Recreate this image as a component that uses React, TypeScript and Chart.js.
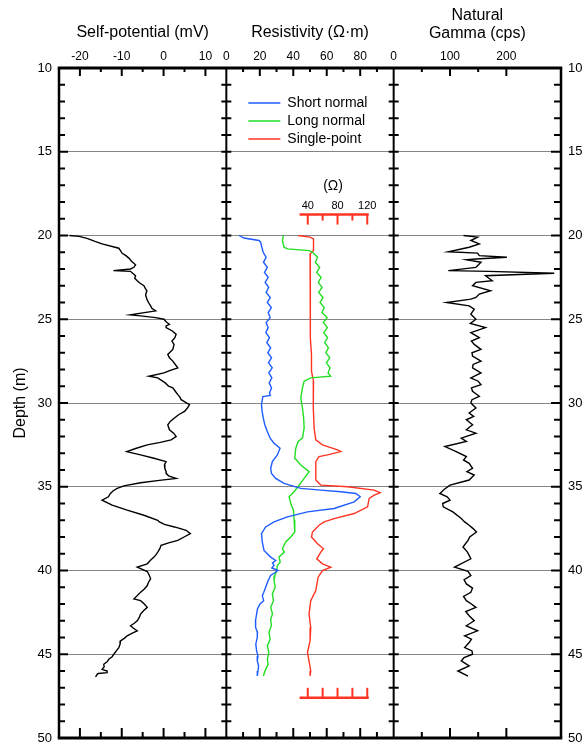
import React, { useEffect, useRef } from 'react';
import { Chart, registerables } from 'chart.js';

Chart.register(...registerables);

const FONT = '"Liberation Sans", Arial, Helvetica, sans-serif';

// ---------- axis ranges / tick labels ----------
const depthMin = 10;
const depthMax = 50;
const depthTickLabels = [10, 15, 20, 25, 30, 35, 40, 45, 50];
const spRange = [-25, 15];
const spTickLabels = [-20, -10, 0, 10];
const resRange = [0, 100];
const resTickLabels = [0, 20, 40, 60, 80];
const gammaRange = [0, 297];
const gammaTickLabels = [0, 100, 200];
const singleRange = [-69.5, 155.5];
const singleTickLabels = [40, 80, 120];
const singleTickMarks = [40, 60, 80, 100, 120];

const seriesLabels = ['Self-potential', 'Short normal', 'Long normal', 'Single-point', 'Natural gamma'];
const seriesColors = ['#000000', '#1f5cff', '#22dd22', '#ff3322', '#000000'];

// ---------- Self-potential (mV) ----------
const spDepth = [20.0, 20.05, 20.17, 20.35, 20.5, 20.76, 20.9, 21.06, 21.2, 21.35, 21.55, 21.75, 21.9, 22.0, 22.1, 22.14, 22.25, 22.4, 22.55, 22.7, 22.85, 23.0, 23.15, 23.3, 23.55, 23.8, 24.0, 24.2, 24.35, 24.5, 24.74, 24.8, 24.9, 25.0, 25.15, 25.3, 25.4, 25.5, 25.7, 25.9, 26.1, 26.3, 26.5, 26.8, 27.1, 27.3, 27.5, 27.7, 27.9, 28.05, 28.2, 28.4, 28.5, 28.65, 28.8, 29.0, 29.1, 29.3, 29.5, 29.65, 29.8, 30.1, 30.3, 30.5, 30.7, 30.9, 31.1, 31.3, 31.6, 31.8, 32.0, 32.2, 32.35, 32.5, 32.7, 32.9, 33.1, 33.3, 33.5, 33.7, 33.9, 34.1, 34.2, 34.35, 34.5, 34.62, 34.76, 34.95, 35.1, 35.25, 35.4, 35.6, 35.8, 36.1, 36.4, 36.7, 37.0, 37.1, 37.25, 37.4, 37.6, 37.8, 38.0, 38.2, 38.35, 38.5, 38.7, 38.9, 39.05, 39.2, 39.4, 39.6, 39.8, 40.06, 40.3, 40.5, 40.7, 40.9, 41.1, 41.3, 41.5, 41.7, 41.8, 42.0, 42.2, 42.4, 42.6, 42.8, 43.0, 43.15, 43.3, 43.45, 43.6, 43.75, 43.9, 44.05, 44.2, 44.4, 44.6, 44.8, 45.0, 45.15, 45.3, 45.45, 45.6, 45.75, 45.9, 46.0, 46.1, 46.15, 46.2, 46.3, 46.35];
const spValue = [-22.5, -20.2, -18.3, -16.4, -14.7, -10.7, -10.3, -9.9, -9.0, -8.3, -7.6, -6.7, -7.1, -7.9, -12.0, -7.9, -7.4, -6.7, -6.9, -6.3, -5.6, -4.7, -4.4, -4.0, -4.3, -4.0, -3.6, -3.1, -2.8, -1.9, -8.0, -5.5, -1.9, 0.1, 0.6, 1.4, 0.6, 0.6, 2.1, 3.0, 2.7, 2.0, 2.5, 2.2, 1.0, 1.4, 2.2, 2.8, 3.4, 1.6, 0.1, -3.5, -1.4, -0.5, 0.4, 1.2, 2.2, 2.8, 3.4, 3.9, 4.2, 6.2, 5.7, 5.0, 3.6, 2.6, 1.6, 1.0, 1.4, 2.4, 3.0, 1.8, -0.8, -3.9, -6.5, -8.8, -5.5, -2.3, 0.6, 0.2, 0.3, 0.6, 0.6, 1.2, 3.0, -1.0, -5.5, -9.5, -11.1, -12.1, -12.7, -13.2, -14.7, -12.3, -8.7, -4.7, -1.4, -1.0, 0.2, 2.6, 5.4, 6.4, 4.9, 3.4, 1.2, -0.6, -0.9, -1.4, -1.8, -2.3, -3.2, -3.9, -6.3, -3.9, -3.4, -3.1, -3.6, -3.9, -4.6, -5.5, -6.3, -7.1, -5.5, -4.6, -3.9, -4.8, -5.5, -5.8, -6.3, -7.0, -7.9, -7.2, -6.3, -7.6, -8.7, -9.4, -10.3, -10.4, -10.7, -11.3, -11.9, -12.3, -13.1, -13.5, -14.3, -14.2, -14.7, -13.5, -13.5, -15.6, -15.9, -16.1, -16.3];

// ---------- Short normal (ohm-m) ----------
const shortDepth = [20.0, 20.15, 20.3, 20.4, 20.7, 21.0, 21.3, 21.6, 21.9, 22.2, 22.5, 22.8, 23.1, 23.4, 23.7, 24.0, 24.3, 24.6, 24.9, 25.2, 25.5, 25.8, 26.1, 26.4, 26.7, 27.0, 27.3, 27.6, 27.9, 28.2, 28.5, 28.8, 29.1, 29.4, 29.55, 29.62, 30.1, 30.5, 30.9, 31.3, 31.7, 32.1, 32.4, 32.7, 33.1, 33.5, 33.9, 34.2, 34.5, 34.8, 35.1, 35.2, 35.3, 35.4, 35.6, 35.9, 36.3, 36.5, 36.8, 37.1, 37.4, 37.8, 38.3, 38.8, 39.2, 39.4, 39.55, 39.7, 39.85, 40.0, 40.3, 40.6, 41.0, 41.3, 41.5, 41.8, 42.0, 42.3, 42.6, 43.0, 43.4, 43.7, 44.0, 44.4, 44.8, 45.1, 45.4, 45.7, 46.0, 46.3];
const shortValue = [7.6, 10.5, 19.5, 20.5, 21.2, 22.0, 23.8, 22.2, 24.5, 22.8, 25.0, 23.2, 25.3, 23.8, 26.3, 24.5, 26.9, 25.0, 26.2, 23.8, 25.0, 23.6, 25.8, 24.2, 26.5, 24.8, 27.0, 25.2, 27.4, 25.4, 27.2, 25.6, 27.0, 25.8, 26.3, 21.8, 21.0, 21.4, 22.1, 23.0, 24.5, 26.2, 28.5, 32.1, 30.5, 27.5, 26.5, 27.0, 29.5, 34.5, 44.5, 56.5, 68.4, 77.4, 80.0, 76.4, 64.4, 48.5, 36.5, 28.5, 23.5, 21.0, 21.5, 22.5, 26.5, 29.5, 27.6, 28.5, 27.2, 30.9, 26.5, 25.0, 23.5, 22.4, 21.5, 22.3, 20.1, 18.6, 18.1, 17.4, 17.5, 18.6, 18.5, 17.6, 18.1, 18.9, 18.5, 19.3, 18.9, 18.5];

// ---------- Long normal (ohm-m) ----------
const longDepth = [20.0, 20.3, 20.7, 20.8, 20.9, 21.0, 21.3, 21.6, 21.9, 22.2, 22.5, 22.8, 23.1, 23.4, 23.7, 24.0, 24.3, 24.6, 24.9, 25.2, 25.5, 25.8, 26.1, 26.4, 26.7, 27.0, 27.3, 27.6, 27.9, 28.2, 28.4, 28.5, 28.7, 29.1, 29.7, 30.3, 30.9, 31.5, 32.1, 32.3, 32.7, 33.3, 33.7, 34.1, 34.5, 34.9, 35.3, 35.6, 36.0, 36.4, 37.0, 37.7, 38.0, 38.3, 38.7, 38.9, 39.2, 39.5, 39.7, 40.0, 40.3, 40.6, 41.0, 41.4, 41.8, 42.2, 42.6, 42.9, 43.3, 43.7, 44.1, 44.5, 44.9, 45.3, 45.6, 45.9, 46.3];
const longValue = [34.1, 33.5, 34.5, 36.5, 49.5, 51.5, 54.5, 53.2, 55.8, 54.0, 56.6, 55.0, 57.2, 55.2, 57.8, 56.0, 58.5, 57.2, 60.2, 58.0, 60.4, 58.2, 60.5, 58.8, 61.0, 59.5, 61.8, 59.8, 62.0, 60.8, 62.3, 50.5, 46.5, 45.5, 44.5, 45.5, 46.2, 46.5, 45.5, 42.9, 41.5, 40.9, 44.5, 49.5, 46.5, 43.5, 40.5, 37.5, 38.5, 40.1, 40.5, 40.9, 38.5, 35.5, 33.5, 34.6, 31.5, 32.2, 30.5, 30.1, 29.0, 28.5, 29.2, 27.5, 28.2, 26.5, 27.6, 26.5, 26.9, 25.5, 26.2, 24.5, 25.4, 24.5, 25.0, 23.5, 22.1];

// ---------- Single-point (ohm) ----------
const singleDepth = [20.0, 20.1, 20.2, 20.9, 21.1, 22.1, 23.1, 24.3, 25.1, 26.1, 27.1, 28.1, 28.7, 29.5, 30.3, 31.5, 32.2, 32.5, 32.8, 32.9, 33.1, 33.2, 33.5, 34.3, 34.6, 34.9, 35.0, 35.2, 35.36, 35.5, 35.7, 36.2, 36.6, 36.9, 37.1, 37.3, 37.7, 38.0, 38.4, 38.7, 38.9, 39.3, 39.6, 39.8, 40.0, 40.4, 41.2, 41.8, 42.6, 43.4, 44.2, 44.9, 45.4, 46.0, 46.3];
const singleValue = [26.9, 43.1, 47.7, 47.7, 43.1, 43.1, 44.0, 43.1, 44.0, 43.1, 45.0, 45.0, 47.7, 47.2, 47.7, 48.5, 50.8, 59.8, 80.0, 84.4, 66.5, 55.2, 50.8, 50.8, 50.8, 57.5, 93.5, 129.3, 137.4, 129.3, 122.6, 120.4, 102.4, 75.4, 62.0, 55.2, 46.3, 45.0, 53.1, 61.1, 57.5, 52.1, 59.8, 71.0, 59.8, 53.9, 50.8, 44.0, 41.7, 44.0, 43.1, 39.6, 41.7, 44.0, 43.1];

// ---------- Natural gamma (cps) ----------
const gammaDepth = [20.0, 20.1, 20.3, 20.5, 20.7, 20.97, 21.05, 21.2, 21.3, 21.4, 21.45, 21.6, 21.9, 22.1, 22.14, 22.25, 22.4, 22.55, 22.7, 22.8, 23.0, 23.3, 23.5, 23.7, 23.8, 24.0, 24.2, 24.4, 24.7, 25.0, 25.25, 25.5, 25.8, 26.1, 26.3, 26.5, 26.8, 27.0, 27.2, 27.5, 27.7, 27.9, 28.2, 28.5, 28.7, 28.9, 29.1, 29.3, 29.6, 29.8, 30.0, 30.3, 30.6, 30.8, 31.0, 31.3, 31.6, 31.8, 32.1, 32.3, 32.6, 32.9, 33.2, 33.4, 33.6, 33.9, 34.1, 34.3, 34.6, 34.9, 35.15, 35.4, 35.6, 35.8, 36.0, 36.2, 36.5, 36.9, 37.1, 37.3, 37.5, 37.7, 38.0, 38.2, 38.6, 38.9, 39.3, 39.8, 40.05, 40.3, 40.55, 40.8, 41.05, 41.3, 41.55, 41.8, 42.0, 42.2, 42.45, 42.7, 43.0, 43.3, 43.6, 43.9, 44.1, 44.3, 44.6, 44.8, 45.0, 45.2, 45.4, 45.7, 46.0, 46.3];
const gammaValue = [124, 149, 137, 152, 134, 97, 149, 152, 201, 146, 129, 155, 146, 97, 169, 285, 163, 169, 175, 146, 140, 172, 152, 146, 137, 94, 134, 143, 137, 146, 136, 163, 137, 152, 138, 143, 155, 139, 140, 155, 141, 140, 155, 137, 150, 155, 138, 140, 152, 139, 137, 146, 134, 142, 129, 140, 129, 146, 120, 129, 91, 111, 129, 124, 134, 140, 130, 143, 134, 100, 90, 82, 95, 100, 87, 88, 105, 120, 126, 134, 141, 147, 135, 132, 123, 131, 137, 108, 132, 137, 125, 129, 140, 137, 124, 129, 138, 146, 128, 134, 143, 129, 149, 126, 138, 134, 126, 139, 140, 125, 120, 134, 114, 132];

const toPoints = (depths: number[], values: number[]) => depths.map((d, i) => ({ x: values[i], y: d }));

const labelFilter = (list: number[]) => (v: number | string) => (list.includes(Number(v)) ? String(v) : '');

const topAxis = (
  range: number[],
  step: number,
  labels: number[],
  title: string | string[],
  titleTop: number,
  weight: number
) => ({
  type: 'linear' as const,
  position: 'top' as const,
  stack: 'panels',
  stackWeight: 1,
  weight,
  min: range[0],
  max: range[1],
  grid: { display: false, drawTicks: false },
  border: { display: false },
  ticks: {
    stepSize: step,
    autoSkip: false,
    maxRotation: 0,
    padding: 4,
    color: '#000',
    font: { family: FONT, size: 12 },
    callback: labelFilter(labels),
  },
  title: {
    display: true,
    text: title,
    color: '#000',
    font: { family: FONT, size: 16, lineHeight: 1.15 },
    padding: { top: titleTop, bottom: 0 },
  },
  afterFit: (s: any) => {
    s.height = 68;
    s.paddingLeft = 0;
    s.paddingRight = 0;
  },
});

const hiddenBottom = (range: number[]) => ({
  type: 'linear' as const,
  position: 'bottom' as const,
  stack: 'hidden',
  stackWeight: 1,
  display: false,
  min: range[0],
  max: range[1],
});

const depthAxisFit = (width: number) => (s: any) => {
  s.width = width;
  s.paddingTop = 0;
  s.paddingBottom = 0;
};

const wellLogPlugin = {
  id: 'wellLog',
  afterDatasetsDraw(chart: any) {
    const { ctx, chartArea: a, scales } = chart;
    const y = scales.y;
    const xsp = scales.xsp;
    const xres = scales.xres;
    const xgam = scales.xgam;
    const xsp1 = scales.xsp1;
    const seg = (x1: number, y1: number, x2: number, y2: number) => {
      ctx.beginPath();
      ctx.moveTo(x1, y1);
      ctx.lineTo(x2, y2);
      ctx.stroke();
    };
    ctx.save();
    ctx.lineCap = 'butt';
    ctx.strokeStyle = '#000';
    ctx.lineWidth = 2;
    // depth ticks on frame and dividers
    for (let d = depthMin; d <= depthMax; d++) {
      const py = y.getPixelForValue(d);
      const major = d % 5 === 0;
      seg(a.left, py, a.left + (major ? 9 : 6), py);
      seg(a.right, py, a.right - (major ? 10 : 7), py);
      for (const xd of [xres.left, xgam.left]) seg(xd - 5, py, xd + 5, py);
    }
    // top / bottom ticks
    const panels: [any, number][] = [
      [xsp, 10],
      [xres, 20],
      [xgam, 100],
    ];
    for (const [sc, majorStep] of panels) {
      for (const t of sc.ticks) {
        const px = sc.getPixelForValue(t.value);
        if (px <= sc.left + 1 || px >= sc.right - 1) continue;
        const major = Math.abs(t.value % majorStep) < 1e-6;
        seg(px, a.top, px, a.top + (major ? 8 : 4));
        seg(px, a.bottom, px, a.bottom - (major ? 10 : 6));
      }
    }
    // frame
    ctx.lineWidth = 3;
    seg(a.left - 1.25, a.top, a.right + 1.25, a.top);
    seg(a.left - 1.25, a.bottom, a.right + 1.25, a.bottom);
    ctx.lineWidth = 2.5;
    seg(a.left, a.top, a.left, a.bottom);
    seg(a.right, a.top, a.right, a.bottom);
    ctx.lineWidth = 2;
    seg(xres.left, a.top, xres.left, a.bottom);
    seg(xgam.left, a.top, xgam.left, a.bottom);

    // single-point (ohm) scale bars
    const red = seriesColors[3];
    ctx.strokeStyle = red;
    ctx.fillStyle = red;
    const x0 = xsp1.getPixelForValue(29);
    const x1 = xsp1.getPixelForValue(122);
    const yTop = y.getPixelForValue(18.75);
    const yBot = y.getPixelForValue(47.6);
    ctx.lineWidth = 2.5;
    seg(x0, yTop, x1, yTop);
    seg(x0, yBot, x1, yBot);
    ctx.lineWidth = 2;
    for (const v of singleTickMarks) {
      const px = xsp1.getPixelForValue(v);
      const long = singleTickLabels.includes(v);
      seg(px, yTop, px, yTop + (long ? 10 : 6));
      seg(px, yBot, px, yBot - 10);
    }
    ctx.fillStyle = '#000';
    ctx.textAlign = 'center';
    ctx.textBaseline = 'middle';
    ctx.font = `11px ${FONT}`;
    for (const v of singleTickLabels) {
      ctx.fillText(String(v), xsp1.getPixelForValue(v), yTop - 9);
    }
    ctx.font = `14px ${FONT}`;
    ctx.fillText('(\u03A9)', xsp1.getPixelForValue(74), yTop - 28);

    // legend
    ctx.textAlign = 'left';
    ctx.font = `14px ${FONT}`;
    for (let i = 1; i <= 3; i++) {
      const ds = chart.data.datasets[i];
      const ly = a.top + 35 + (i - 1) * 18;
      ctx.strokeStyle = ds.borderColor;
      ctx.lineWidth = 1.3;
      seg(xres.left + 22, ly, xres.left + 54, ly);
      ctx.fillStyle = '#000';
      ctx.fillText(ds.label, xres.left + 61, ly);
    }
    ctx.restore();
  },
};

export default function App() {
  const canvasRef = useRef<HTMLCanvasElement | null>(null);

  useEffect(() => {
    if (!canvasRef.current) return;
    const lineDs = (idx: number, data: any[], xAxisID: string) => ({
      label: seriesLabels[idx],
      data,
      xAxisID,
      yAxisID: 'y',
      showLine: true,
      borderColor: seriesColors[idx],
      backgroundColor: seriesColors[idx],
      borderWidth: 1.4,
      pointRadius: 0,
      pointHoverRadius: 0,
      tension: 0,
      fill: false,
    });
    const chart = new Chart(canvasRef.current, {
      type: 'scatter',
      data: {
        datasets: [
          lineDs(0, toPoints(spDepth, spValue), 'xsp'),
          lineDs(1, toPoints(shortDepth, shortValue), 'xres'),
          lineDs(2, toPoints(longDepth, longValue), 'xres'),
          lineDs(3, toPoints(singleDepth, singleValue), 'xsp1'),
          lineDs(4, toPoints(gammaDepth, gammaValue), 'xgam'),
        ],
      },
      options: {
        responsive: false,
        animation: false,
        devicePixelRatio: 1,
        layout: { padding: { left: 0, right: 0, top: 0, bottom: 7 } },
        plugins: {
          legend: { display: false },
          tooltip: { enabled: false },
          title: { display: false },
        },
        events: [],
        scales: {
          xsp: topAxis(spRange, 5, spTickLabels, 'Self-potential (mV)', 23, 3),
          xres: topAxis(resRange, 10, resTickLabels, 'Resistivity (\u03A9\u00B7m)', 23, 2),
          xgam: topAxis(gammaRange, 50, gammaTickLabels, ['Natural', 'Gamma (cps)'], 6, 1),
          xb1: hiddenBottom([0, 1]),
          xsp1: hiddenBottom(singleRange),
          xb3: hiddenBottom([0, 1]),
          y: {
            type: 'linear',
            position: 'left',
            reverse: true,
            min: depthMin,
            max: depthMax,
            grid: {
              drawTicks: false,
              lineWidth: 1,
              color: (c: any) =>
                c.tick && (c.tick.value === depthMin || c.tick.value === depthMax) ? 'rgba(0,0,0,0)' : '#858585',
            },
            border: { display: false },
            ticks: {
              stepSize: 5,
              autoSkip: false,
              padding: 7,
              color: '#000',
              font: { family: FONT, size: 13 },
              callback: labelFilter(depthTickLabels),
            },
            title: {
              display: true,
              text: 'Depth (m)',
              color: '#000',
              font: { family: FONT, size: 16 },
              padding: { top: 11, bottom: 0 },
            },
            afterFit: depthAxisFit(59),
          },
          y2: {
            type: 'linear',
            position: 'right',
            reverse: true,
            min: depthMin,
            max: depthMax,
            grid: { display: false, drawTicks: false },
            border: { display: false },
            ticks: {
              stepSize: 5,
              autoSkip: false,
              padding: 7,
              color: '#000',
              font: { family: FONT, size: 13 },
              callback: labelFilter(depthTickLabels),
            },
            afterFit: depthAxisFit(25),
          },
        },
      } as any,
      plugins: [wellLogPlugin],
    });
    return () => chart.destroy();
  }, []);

  return (
    <div style={{ position: 'absolute', left: 0, top: 0, width: 586, height: 745, background: '#fff' }}>
      <canvas ref={canvasRef} width={586} height={745} style={{ display: 'block', width: 586, height: 745 }} />
    </div>
  );
}
